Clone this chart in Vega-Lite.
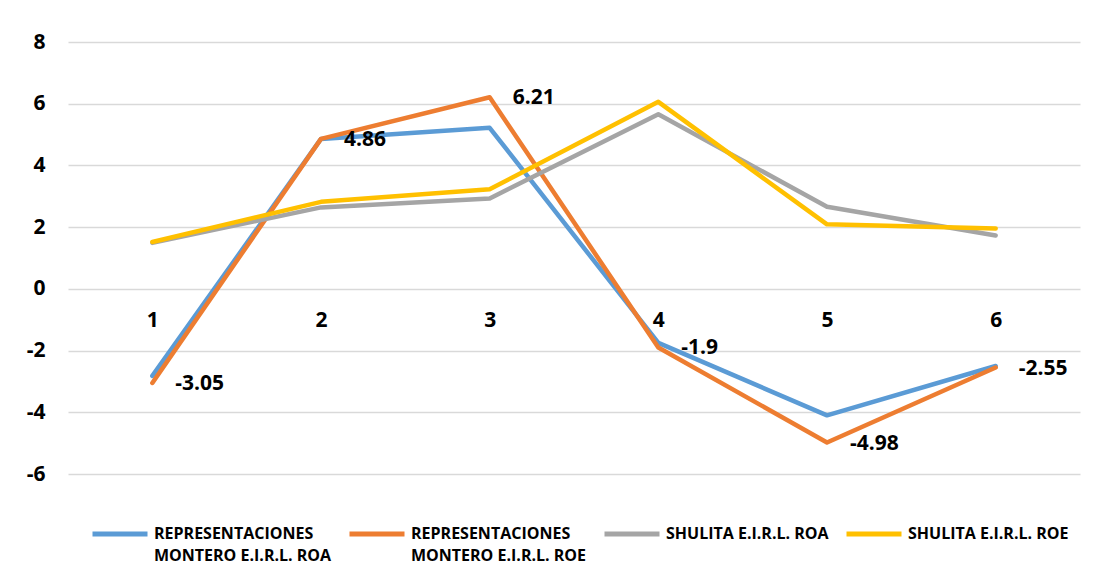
{
  "$schema": "https://vega.github.io/schema/vega-lite/v6.json",
  "width": 1012,
  "height": 432,
  "autosize": "none",
  "padding": {"left": 68, "top": 42, "right": 16, "bottom": 100},
  "background": "white",
  "config": {"view": {"stroke": null}, "font": "Open Sans"},
  "data": {
    "values": [
      {"series": "REPRESENTACIONES MONTERO E.I.R.L. ROA", "period": 1, "value": -2.82},
      {"series": "REPRESENTACIONES MONTERO E.I.R.L. ROA", "period": 2, "value": 4.86},
      {"series": "REPRESENTACIONES MONTERO E.I.R.L. ROA", "period": 3, "value": 5.22},
      {"series": "REPRESENTACIONES MONTERO E.I.R.L. ROA", "period": 4, "value": -1.75},
      {"series": "REPRESENTACIONES MONTERO E.I.R.L. ROA", "period": 5, "value": -4.1},
      {"series": "REPRESENTACIONES MONTERO E.I.R.L. ROA", "period": 6, "value": -2.5},
      {"series": "REPRESENTACIONES MONTERO E.I.R.L. ROE", "period": 1, "value": -3.05},
      {"series": "REPRESENTACIONES MONTERO E.I.R.L. ROE", "period": 2, "value": 4.86},
      {"series": "REPRESENTACIONES MONTERO E.I.R.L. ROE", "period": 3, "value": 6.21},
      {"series": "REPRESENTACIONES MONTERO E.I.R.L. ROE", "period": 4, "value": -1.9},
      {"series": "REPRESENTACIONES MONTERO E.I.R.L. ROE", "period": 5, "value": -4.98},
      {"series": "REPRESENTACIONES MONTERO E.I.R.L. ROE", "period": 6, "value": -2.55},
      {"series": "SHULITA E.I.R.L. ROA", "period": 1, "value": 1.49},
      {"series": "SHULITA E.I.R.L. ROA", "period": 2, "value": 2.64},
      {"series": "SHULITA E.I.R.L. ROA", "period": 3, "value": 2.93},
      {"series": "SHULITA E.I.R.L. ROA", "period": 4, "value": 5.66},
      {"series": "SHULITA E.I.R.L. ROA", "period": 5, "value": 2.66},
      {"series": "SHULITA E.I.R.L. ROA", "period": 6, "value": 1.73},
      {"series": "SHULITA E.I.R.L. ROE", "period": 1, "value": 1.52},
      {"series": "SHULITA E.I.R.L. ROE", "period": 2, "value": 2.82},
      {"series": "SHULITA E.I.R.L. ROE", "period": 3, "value": 3.23},
      {"series": "SHULITA E.I.R.L. ROE", "period": 4, "value": 6.06},
      {"series": "SHULITA E.I.R.L. ROE", "period": 5, "value": 2.09},
      {"series": "SHULITA E.I.R.L. ROE", "period": 6, "value": 1.96}
    ]
  },
  "layer": [
    {
      "mark": {"type": "line", "strokeWidth": 4.5, "strokeCap": "round", "strokeJoin": "round"},
      "encoding": {
        "x": {
          "field": "period",
          "type": "ordinal",
          "scale": {"type": "point", "padding": 0.5},
          "axis": {
            "orient": "bottom",
            "offset": -185,
            "domain": false,
            "ticks": false,
            "grid": false,
            "labelAngle": 0,
            "labelPadding": 20,
            "labelFontSize": 21,
            "labelFontWeight": "bold",
            "labelColor": "#000000",
            "title": null
          }
        },
        "y": {
          "field": "value",
          "type": "quantitative",
          "scale": {"domain": [-6, 8], "nice": false, "zero": false},
          "axis": {
            "values": [-6, -4, -2, 0, 2, 4, 6, 8],
            "domain": false,
            "ticks": false,
            "gridColor": "#d9d9d9",
            "gridWidth": 1.5,
            "labelPadding": 23,
            "labelFontSize": 21,
            "labelFontWeight": "bold",
            "labelColor": "#000000",
            "labelExpr": "replace(datum.label, '\u2212', '-')",
            "title": null
          }
        },
        "color": {
          "field": "series",
          "type": "nominal",
          "scale": {
            "domain": [
              "REPRESENTACIONES MONTERO E.I.R.L. ROA",
              "REPRESENTACIONES MONTERO E.I.R.L. ROE",
              "SHULITA E.I.R.L. ROA",
              "SHULITA E.I.R.L. ROE"
            ],
            "range": ["#5B9BD5", "#ED7D31", "#A5A5A5", "#FFC000"]
          },
          "legend": {
            "orient": "none",
            "legendX": 22,
            "legendY": 462,
            "direction": "horizontal",
            "columns": 4,
            "title": null,
            "symbolType": "M-1,0H1",
            "symbolSize": 3025,
            "symbolStrokeWidth": 5,
            "labelFontSize": 16,
            "labelFontWeight": "bold",
            "labelColor": "#000000",
            "labelBaseline": "middle",
            "labelOffset": 4,
            "labelLimit": 400,
            "columnPadding": 7,
            "labelExpr": "indexof(datum.label, 'MONTERO') > 0 ? ['REPRESENTACIONES', substring(datum.label, 17)] : [datum.label, '']",
            "encode": {"labels": {"update": {"lineHeight": {"value": 22}}}}
          }
        }
      }
    },
    {
      "transform": [{"filter": "datum.series == 'REPRESENTACIONES MONTERO E.I.R.L. ROE'"}],
      "mark": {"type": "text", "align": "left", "baseline": "middle", "dx": 23, "dy": 1, "fontSize": 21, "fontWeight": "bold", "color": "#000000"},
      "encoding": {
        "x": {"field": "period", "type": "ordinal"},
        "y": {"field": "value", "type": "quantitative"},
        "text": {"field": "value", "type": "nominal"}
      }
    }
  ]
}
